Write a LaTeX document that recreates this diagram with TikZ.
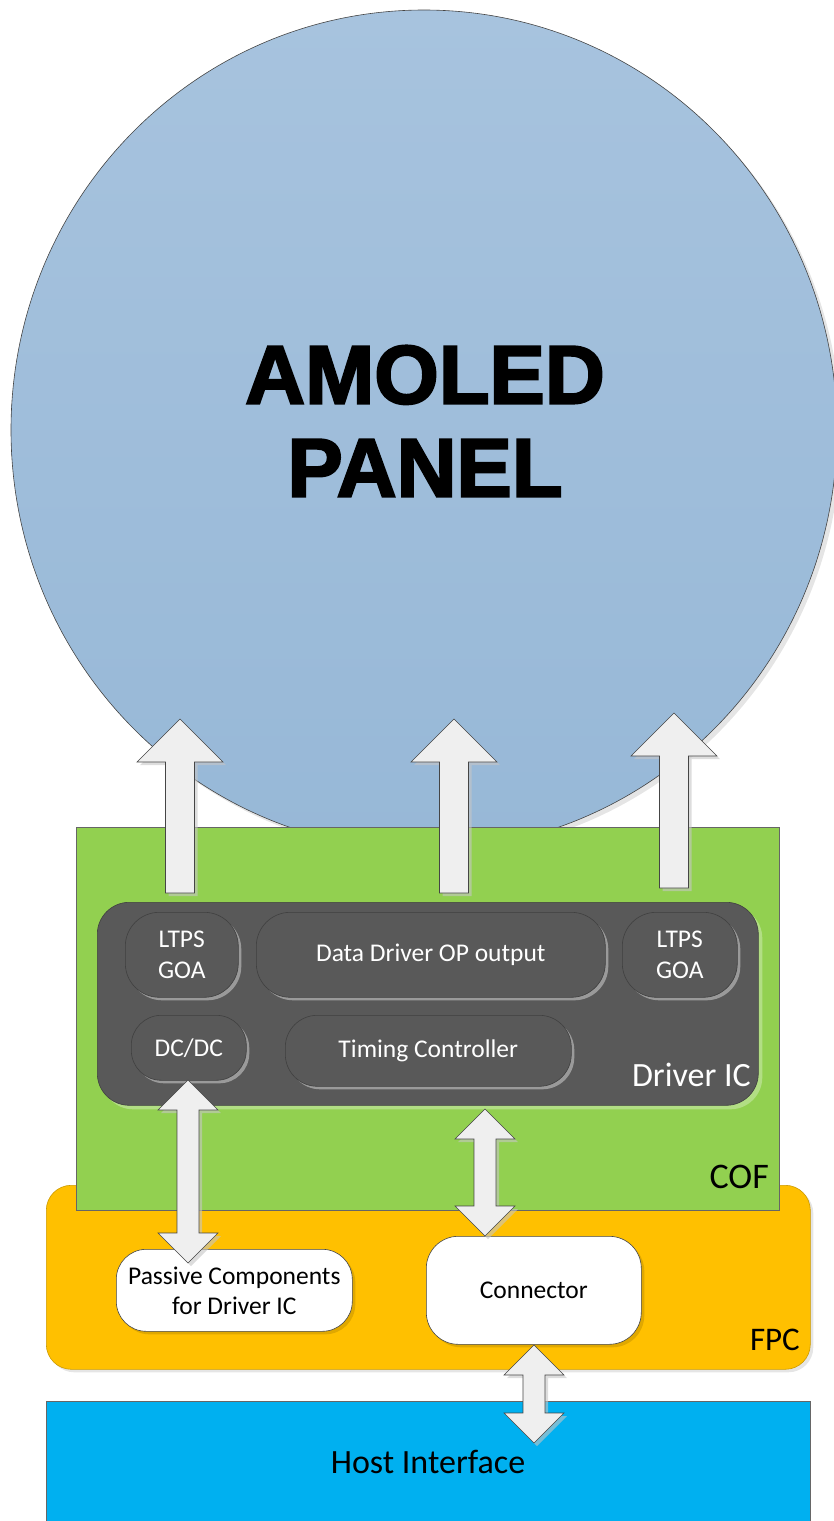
\documentclass[tikz,border=0pt]{standalone}
\usepackage{fontspec}
\setmainfont{Carlito}
\newfontfamily\panelfont[BoldFeatures={FakeBold=2.6}]{Liberation Sans}
\usetikzlibrary{shapes.geometric,shadows,calc}
\definecolor{panelTop}{HTML}{A7C3DE}
\definecolor{panelBot}{HTML}{97B8D7}
\definecolor{cofgreen}{HTML}{92D050}
\definecolor{fpcorange}{HTML}{FFC000}
\definecolor{hostblue}{HTML}{00B0F0}
\definecolor{icgray}{HTML}{595959}
\definecolor{edgegray}{HTML}{454545}
\definecolor{arrowfill}{HTML}{EFEFEF}
\newcommand\blkup[2]{%
  \draw[blk] let \p1=(#1), \p2=(#2) in
  (\x1-14.5pt,\y1) -- (\x1-14.5pt,\y2-43pt) -- (\x1-43pt,\y2-43pt) -- (\x2,\y2)
  -- (\x1+43pt,\y2-43pt) -- (\x1+14.5pt,\y2-43pt) -- (\x1+14.5pt,\y1) -- cycle;}
\newcommand\blkdbl[2]{%
  \draw[blk] let \p1=(#1), \p2=(#2) in
  (\x1,\y1) -- (\x1+30pt,\y1-30pt) -- (\x1+11pt,\y1-30pt) -- (\x1+11pt,\y2+30pt)
  -- (\x1+30pt,\y2+30pt) -- (\x2,\y2) -- (\x1-30pt,\y2+30pt) -- (\x1-11pt,\y2+30pt)
  -- (\x1-11pt,\y1-30pt) -- (\x1-30pt,\y1-30pt) -- cycle;}
\begin{document}
\begin{tikzpicture}[x=1pt,y=-1pt,
  shad/.style={drop shadow={shadow xshift=3pt,shadow yshift=-3pt,fill=gray!45,opacity=0.6}},
  blk/.style={fill=arrowfill,draw=edgegray,line width=0.6pt,line join=miter,shad},
  box/.style={anchor=north west,inner sep=2pt,align=center,line width=0.6pt},
  inner/.style={box,rectangle,fill=icgray,draw=black!75,text=white,
    font=\fontsize{25.5}{31}\selectfont,shad},
  white box/.style={box,rectangle,fill=white,draw=edgegray,
    font=\fontsize{25.5}{30}\selectfont,
    drop shadow={shadow xshift=3pt,shadow yshift=-3pt,fill=black,opacity=0.12}},
  lbl/.style={inner sep=0pt}
]
\useasboundingbox (0,0) rectangle (833,1521);

% AMOLED panel
\node[ellipse,minimum width=826pt,minimum height=840pt,inner sep=0pt,
  draw=edgegray,line width=0.6pt,top color=panelTop,bottom color=panelBot,
  drop shadow={shadow xshift=4pt,shadow yshift=-4pt,fill=gray!40,opacity=0.5}]
  (panel) at (424,430) {};
\node[lbl,font=\panelfont\bfseries\fontsize{83}{93}\selectfont,align=center]
  (paneltext) at (425,421) {AMOLED\\PANEL};

% FPC (behind COF)
\node[box,rectangle,rounded corners=25pt,fill=fpcorange,draw=fpcorange!80!black,
  minimum width=764pt,minimum height=184pt,inner sep=0pt,
  drop shadow={shadow xshift=3pt,shadow yshift=-3pt,fill=gray!40,opacity=0.5}]
  (fpc) at (46,1185) {};
\node[lbl,anchor=base east,font=\fontsize{33}{38}\selectfont] (fpclbl) at (800,1350) {FPC};

% COF
\node[box,rectangle,fill=cofgreen,draw=gray!80!black,
  minimum width=703pt,minimum height=383pt,inner sep=0pt] (cof) at (76,827) {};
\node[lbl,anchor=base east,font=\fontsize{36}{40}\selectfont] (coflbl) at (769,1188) {COF};

% Host interface
\node[box,rectangle,fill=hostblue,draw=gray!80!black,
  minimum width=764pt,minimum height=140pt,inner sep=0pt] (host) at (46,1401) {};
\node[lbl,anchor=base,font=\fontsize{34}{40}\selectfont] (hostlbl) at (428,1473) {Host Interface};

% Driver IC
\node[box,rectangle,rounded corners=32pt,fill=icgray,draw=black!75,
  minimum width=661pt,minimum height=203pt,inner sep=0pt,
  drop shadow={shadow xshift=4pt,shadow yshift=-4pt,fill=white,opacity=0.3}]
  (ic) at (97,902) {};
\node[lbl,anchor=base east,text=white,font=\fontsize{34}{40}\selectfont] (iclbl) at (751,1086) {Driver IC};

\node[inner,rounded corners=34pt,minimum width=113pt,minimum height=85pt] (goaL) at (125,912) {LTPS\\GOA};
\node[inner,rounded corners=34pt,minimum width=349pt,minimum height=85pt] (data) at (256,912) {Data Driver OP output};
\node[inner,rounded corners=34pt,minimum width=115pt,minimum height=85pt] (goaR) at (622,912) {LTPS\\GOA};
\node[inner,rounded corners=30pt,minimum width=115pt,minimum height=65pt] (dcdc) at (131,1015) {DC/DC};
\node[inner,rounded corners=32pt,minimum width=286pt,minimum height=71pt] (timing) at (285,1015) {Timing Controller};

% FPC components
\node[white box,rounded corners=30pt,minimum width=236pt,minimum height=82pt] (passive) at (116,1249) {Passive Components\\for Driver IC};
\node[white box,rounded corners=32pt,minimum width=215pt,minimum height=108pt] (conn) at (426,1236) {Connector};

% up arrows into the panel
\coordinate (aLb) at (180,893); \coordinate (aLt) at (180,719);
\coordinate (aMb) at (454,893); \coordinate (aMt) at (454,719);
\coordinate (aRb) at (674,888); \coordinate (aRt) at (674,713);
\blkup{aLb}{aLt}
\blkup{aMb}{aMt}
\blkup{aRb}{aRt}

% double arrows
\coordinate (dLt) at (188,1080); \coordinate (dLb) at (188,1263);
\coordinate (dMt) at (485,1109); \coordinate (dMb) at (485,1236);
\coordinate (dBt) at (534,1345); \coordinate (dBb) at (534,1443);
\blkdbl{dLt}{dLb}
\blkdbl{dMt}{dMb}
\blkdbl{dBt}{dBb}
\end{tikzpicture}
\end{document}
